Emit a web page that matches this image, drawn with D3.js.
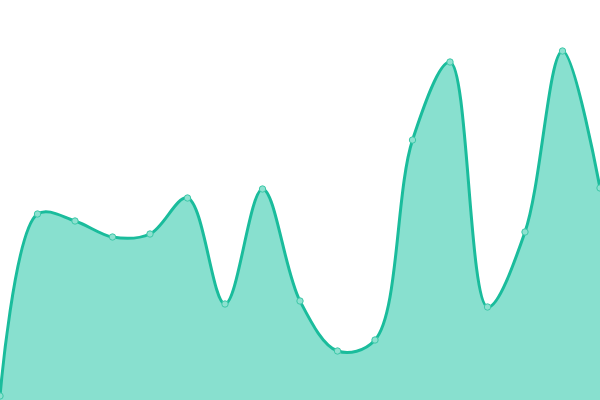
<!DOCTYPE html>
<html><head><meta charset="utf-8">
<script src="https://cdn.jsdelivr.net/npm/d3@7"></script>
<style>html,body{margin:0;padding:0;background:#fff;overflow:hidden}</style>
</head><body>
<svg id="chart" width="600" height="400"></svg>
<script>
const labels = ["1","2","3","4","5","6","7","8","9","10","11","12","13","14","15","16","17"];
const values = [4,186,179,163,166,202,96,211,99,49,60,260,338,93,168,349,212];

const W = 600, H = 400;
const svg = d3.select("#chart");
const x = d3.scalePoint().domain(labels).range([0, W]);
const y = d3.scaleLinear().domain([0, 400]).range([H, 0]);
const curve = d3.curveCatmullRom.alpha(0.5);

const area = d3.area().x((d,i)=>x(labels[i])).y0(H).y1(d=>y(d)).curve(curve);
const line = d3.line().x((d,i)=>x(labels[i])).y(d=>y(d)).curve(curve);

svg.append("path").datum(values).attr("d", area).attr("fill", "#88e0cf");
svg.append("path").datum(values).attr("d", line).attr("fill", "none")
  .attr("stroke", "#1abc9c").attr("stroke-width", 3);
svg.selectAll("circle").data(values).join("circle")
  .attr("cx",(d,i)=>x(labels[i])).attr("cy",d=>y(d)).attr("r",3.2)
  .attr("fill","#8de1d0").attr("stroke","#3cc8a8").attr("stroke-width",1);
</script>
</body></html>
